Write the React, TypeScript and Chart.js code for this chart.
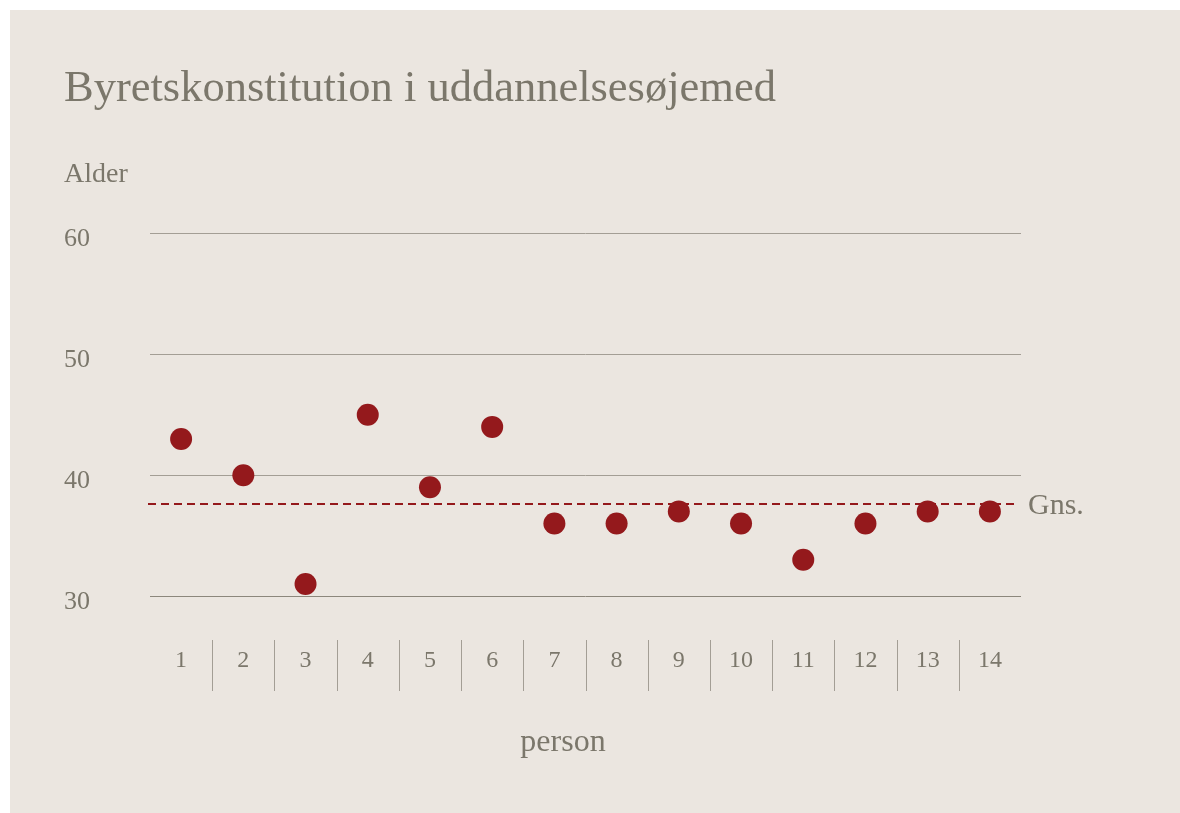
import React, { useEffect, useRef } from "react";
import { Chart, registerables } from "chart.js";

Chart.register(...registerables);

const categories = ["1", "2", "3", "4", "5", "6", "7", "8", "9", "10", "11", "12", "13", "14"];
const ages = [43, 40, 31, 45, 39, 44, 36, 36, 37, 36, 33, 36, 37, 37];
const meanAge = 37.6;
const yTicks = [30, 40, 50, 60];
const titleText = "Byretskonstitution i uddannelsesøjemed";
const yTitleText = "Alder";
const xTitleText = "person";
const meanLabel = "Gns.";

const FONT = "'Liberation Serif', 'DejaVu Serif', serif";
const TEXT = "#7b776b";
const GRID = "#a39e95";
const RED = "#94191c";
const BG = "#ebe6e0";

const overlayPlugin = {
  id: "overlay",
  afterDatasetsDraw(chart: any) {
    const { ctx, chartArea } = chart;
    const x = chart.scales.x;
    ctx.save();
    // separators between categories
    ctx.strokeStyle = GRID;
    ctx.lineWidth = 1;
    for (let i = 0; i < categories.length - 1; i++) {
      const px = Math.round((x.getPixelForValue(i) + x.getPixelForValue(i + 1)) / 2) + 0.5;
      ctx.beginPath();
      ctx.moveTo(px, chartArea.bottom + 44);
      ctx.lineTo(px, chartArea.bottom + 95);
      ctx.stroke();
    }
    // x title
    ctx.fillStyle = TEXT;
    ctx.font = `32px ${FONT}`;
    ctx.textAlign = "center";
    ctx.textBaseline = "alphabetic";
    ctx.fillText(xTitleText, chartArea.left + 413, chartArea.bottom + 155);
    ctx.restore();
  },
  beforeDatasetsDraw(chart: any) {
    const { ctx, chartArea } = chart;
    const y = chart.scales.y;
    const py = Math.round(y.getPixelForValue(meanAge));
    ctx.save();
    ctx.strokeStyle = RED;
    ctx.lineWidth = 2;
    ctx.setLineDash([8, 5]);
    ctx.beginPath();
    ctx.moveTo(chartArea.left - 2, py);
    ctx.lineTo(chartArea.right - 7, py);
    ctx.stroke();
    ctx.setLineDash([]);
    ctx.fillStyle = TEXT;
    ctx.font = `30px ${FONT}`;
    ctx.textAlign = "left";
    ctx.textBaseline = "alphabetic";
    ctx.fillText(meanLabel, chartArea.right + 7, py + 10);
    ctx.restore();
  },
};

export default function App() {
  const ref = useRef<HTMLCanvasElement>(null);
  useEffect(() => {
    if (!ref.current) return;
    const chart = new Chart(ref.current, {
      type: "line",
      data: {
        labels: categories,
        datasets: [
          {
            data: ages,
            showLine: false,
            pointRadius: 11,
            pointHoverRadius: 11,
            pointBackgroundColor: RED,
            pointBorderColor: RED,
            pointBorderWidth: 0,
            borderColor: RED,
            backgroundColor: RED,
          },
        ],
      },
      options: {
        responsive: false,
        animation: false,
        devicePixelRatio: 1,
        layout: { padding: { left: 54, right: 159, top: 0, bottom: 0 } },
        plugins: {
          legend: { display: false },
          tooltip: { enabled: false },
          title: {
            display: true,
            text: titleText,
            align: "start",
            color: TEXT,
            font: { family: FONT, size: 44.5, weight: "normal", lineHeight: 1.2 },
            padding: { top: 52.6, bottom: 0 },
          },
          subtitle: {
            display: true,
            text: yTitleText,
            align: "start",
            color: TEXT,
            font: { family: FONT, size: 28, weight: "normal", lineHeight: 1.2 },
            padding: { top: 42.3, bottom: 41.7 },
          },
        },
        scales: {
          x: {
            type: "category",
            offset: true,
            grid: { display: false, drawTicks: false },
            border: { display: false },
            ticks: {
              color: TEXT,
              font: { family: FONT, size: 24 },
              padding: 50,
              maxRotation: 0,
              autoSkip: false,
            },
            afterFit: (scale: any) => {
              scale.height = 217;
            },
          },
          y: {
            min: 30,
            max: 60,
            afterBuildTicks: (scale: any) => {
              scale.ticks = yTicks.map((v) => ({ value: v }));
            },
            grid: {
              color: (c: any) => (c.tick && c.tick.value === 30 ? "#8c877c" : GRID),
              lineWidth: 1,
              drawTicks: false,
            },
            border: { display: false },
            ticks: {
              color: TEXT,
              font: { family: FONT, size: 26 },
              crossAlign: "far",
              labelOffset: 6,
              padding: 0,
            },
            afterFit: (scale: any) => {
              scale.width = 86;
            },
          },
        },
      },
      plugins: [overlayPlugin],
    });
    return () => chart.destroy();
  }, []);

  return (
    <div
      style={{
        position: "absolute",
        left: 10,
        top: 10,
        width: 1170,
        height: 803,
        background: BG,
      }}
    >
      <canvas ref={ref} width={1170} height={803} style={{ display: "block" }} />
    </div>
  );
}
